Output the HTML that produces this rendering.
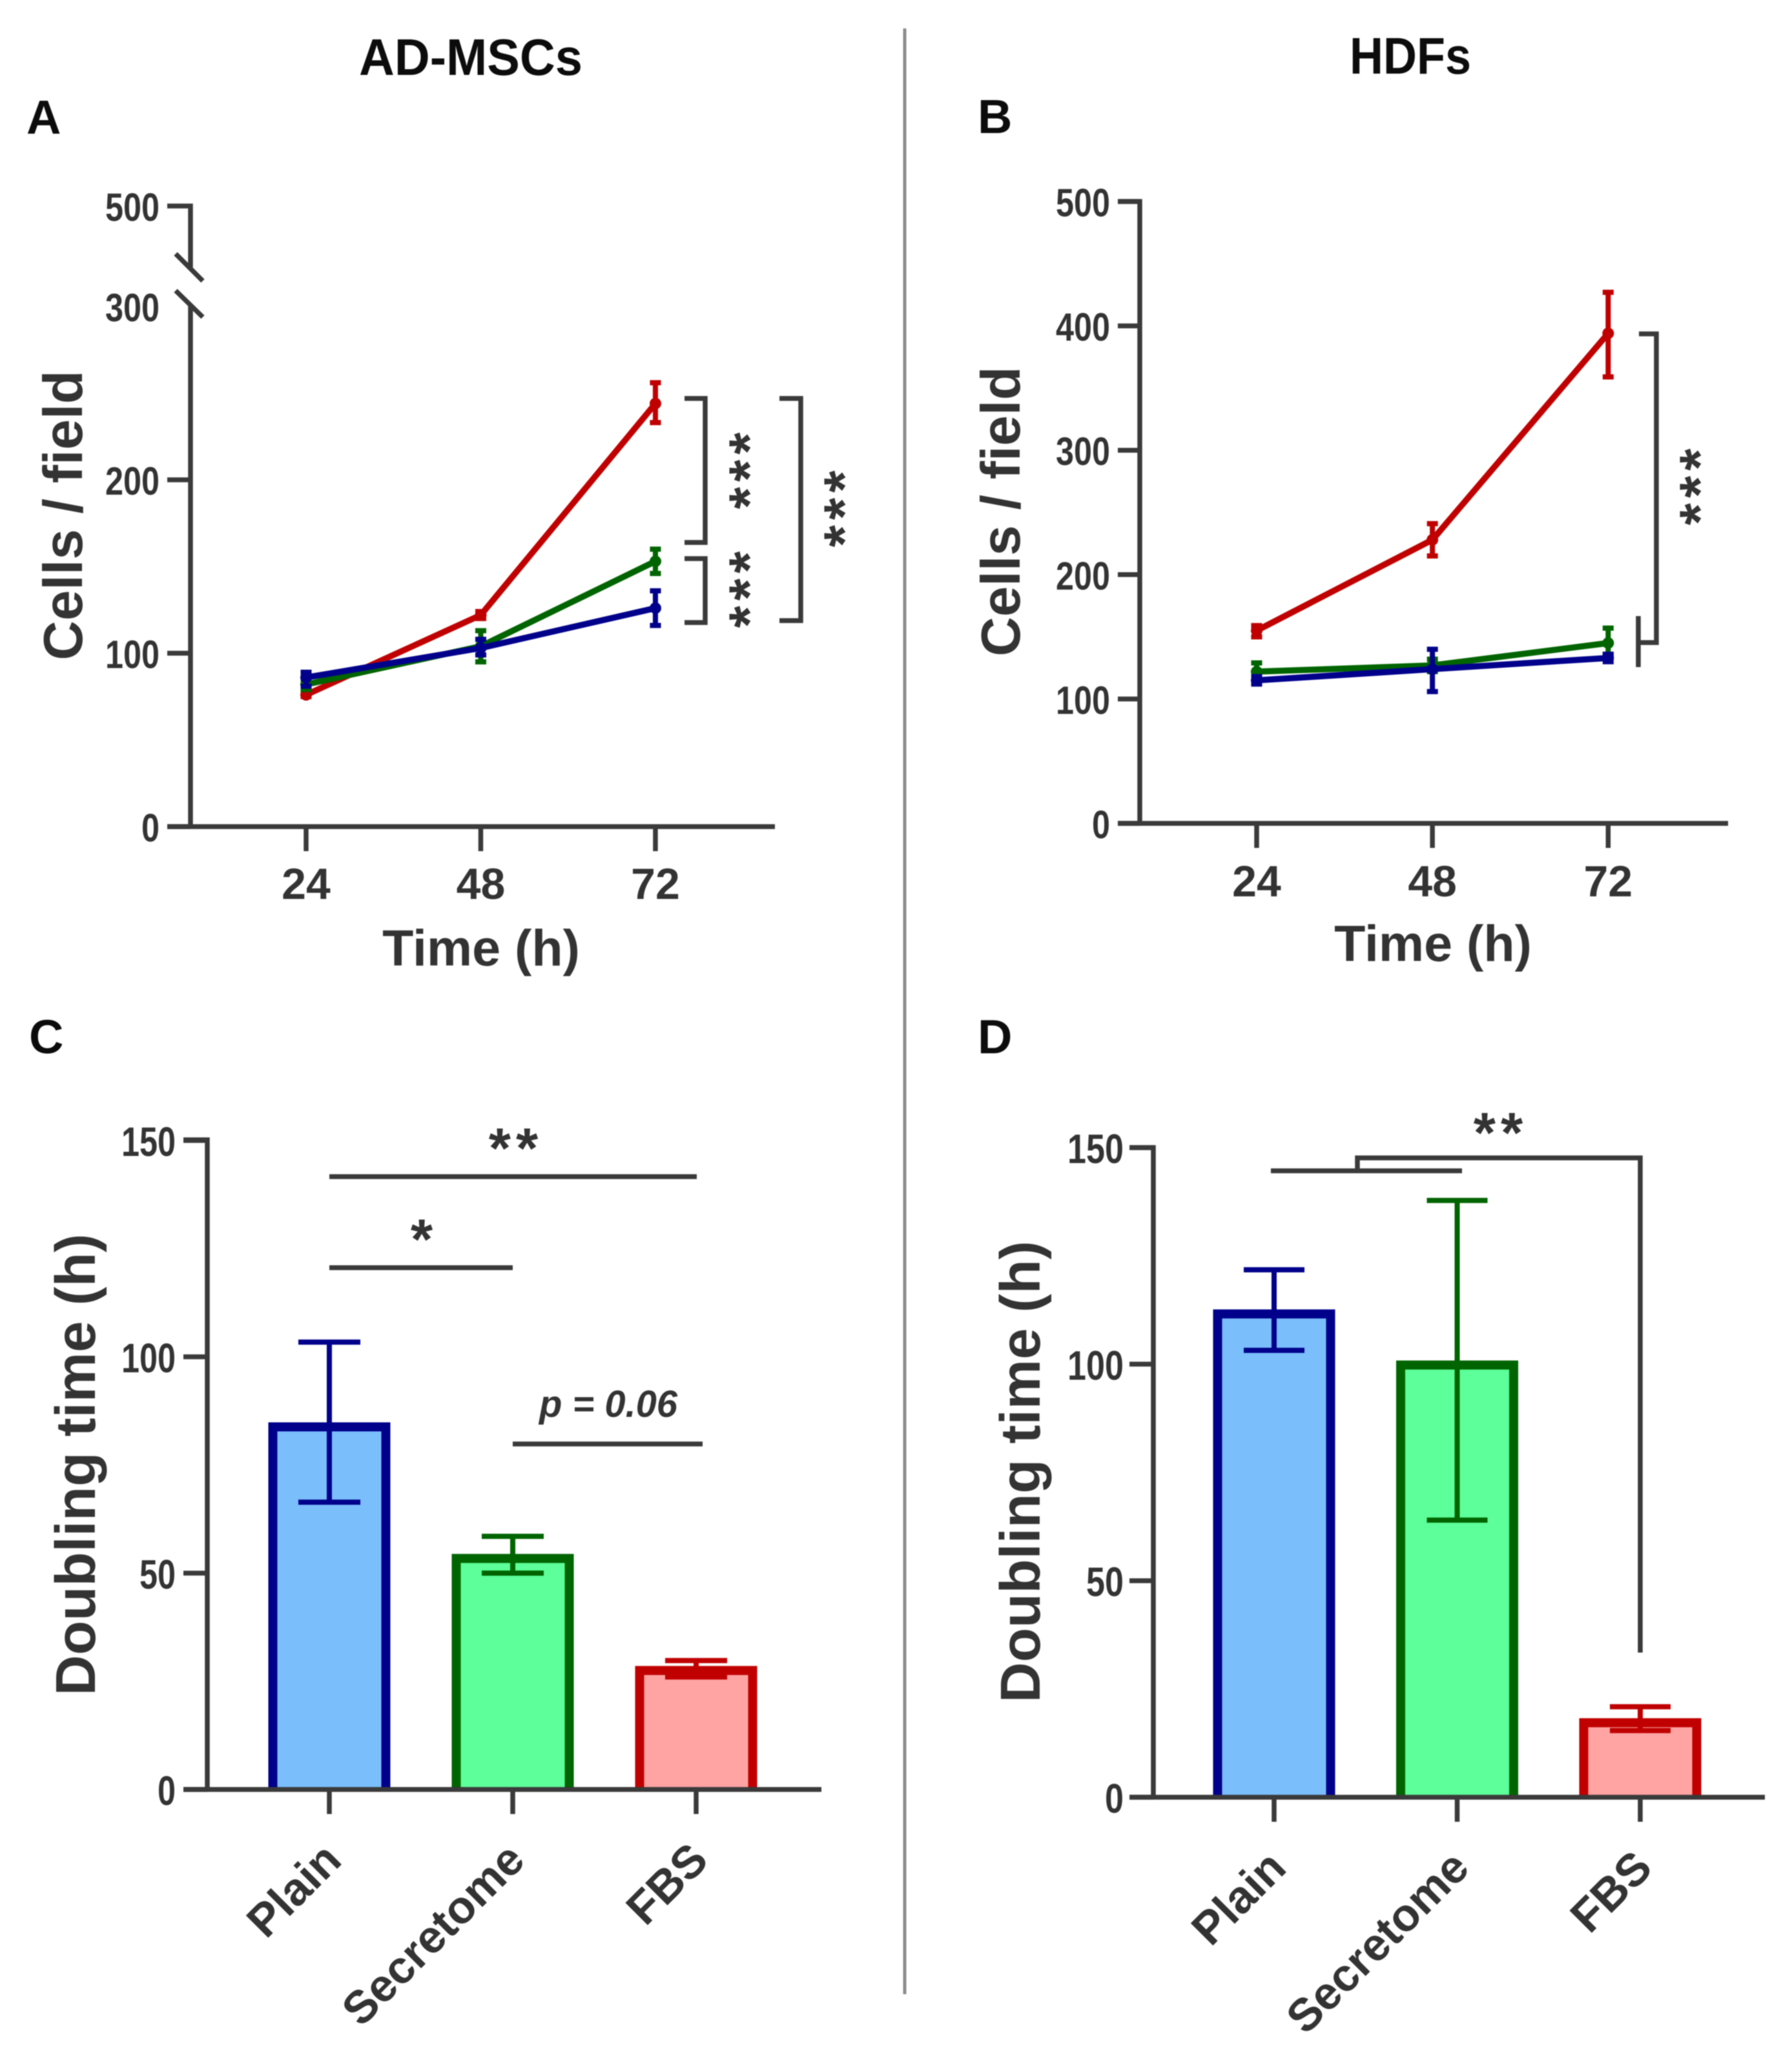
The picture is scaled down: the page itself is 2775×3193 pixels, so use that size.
<!DOCTYPE html>
<html lang="en">
<head>
<meta charset="utf-8">
<title>Cell growth and doubling time: AD-MSCs and HDFs</title>
<style>
html,body{margin:0;padding:0;background:#fff;width:2775px;height:3193px;overflow:hidden}
svg{display:block;filter:blur(0.7px)}
text{font-family:"Liberation Sans",sans-serif;font-weight:700;fill:#333}
.head{fill:#0c0c0c}
.ink{fill:none;stroke:#3a3a3a;stroke-width:7.5}
.star{letter-spacing:8px}
</style>
</head>
<body>
<svg id="fig" xmlns="http://www.w3.org/2000/svg" width="2775" height="3193" viewBox="0 0 2775 3193">
  <rect width="2775" height="3193" fill="#fff"/>
  <line x1="1401" y1="44" x2="1401" y2="3088" stroke="#8c8c8c" stroke-width="5"/>
  <text class="head" x="556" y="116" font-size="80" textLength="346" lengthAdjust="spacingAndGlyphs">AD-MSCs</text>
  <text class="head" x="2090" y="114" font-size="80" textLength="188" lengthAdjust="spacingAndGlyphs">HDFs</text>
  <text class="head" x="41" y="207" font-size="74">A</text>
  <text class="head" x="1514" y="206" font-size="74">B</text>
  <text class="head" x="45" y="1631" font-size="74">C</text>
  <text class="head" x="1514" y="1631" font-size="74">D</text>

  <g id="panel-a">
    <path class="ink" d="M259 319H295V414"/>
    <path class="ink" d="M295 471V1280"/>
    <path class="ink" d="M259 1280H1200"/>
    <line class="ink" x1="272" y1="393" x2="314" y2="435"/>
    <line class="ink" x1="272" y1="450" x2="314" y2="491"/>
    <text x="745" y="1495" font-size="79" text-anchor="middle">Time (h)</text>
    <text font-size="85" text-anchor="middle" transform="translate(127 798) rotate(-90)">Cells / field</text>
    <path class="ink" d="M1060 617H1092V840H1060"/>
    <path class="ink" d="M1060 865H1092V964H1060"/>
    <path class="ink" d="M1207 617H1240V961H1207"/>
    <text class="star" font-size="88" text-anchor="middle" transform="translate(1149 729) rotate(-90)" x="4" y="41">***</text>
    <text class="star" font-size="88" text-anchor="middle" transform="translate(1149 913) rotate(-90)" x="4" y="41">***</text>
    <text class="star" font-size="88" text-anchor="middle" transform="translate(1296 788) rotate(-90)" x="4" y="41">***</text>
  </g>

  <g id="panel-b">
    <path class="ink" d="M1731 312H1765V1275"/>
    <path class="ink" d="M1731 1275H2676"/>
    <text x="2219" y="1488" font-size="79" text-anchor="middle">Time (h)</text>
    <text font-size="85" text-anchor="middle" transform="translate(1579 792) rotate(-90)">Cells / field</text>
    <path class="ink" d="M2538 517H2565V995H2537"/>
    <line class="ink" x1="2537" y1="954" x2="2537" y2="1033"/>
    <text class="star" font-size="88" text-anchor="middle" transform="translate(2621 754) rotate(-90)" x="4" y="41">***</text>
  </g>

  <g id="panel-c">
    <text font-size="87" text-anchor="middle" transform="translate(147 2268) rotate(-90)">Doubling time (h)</text>
    <line class="ink" x1="510" y1="1822" x2="1079" y2="1822"/>
    <line class="ink" x1="510" y1="1963" x2="794" y2="1963"/>
    <line class="ink" x1="794" y1="2236" x2="1088" y2="2236"/>
    <text class="star" font-size="88" text-anchor="middle" x="799" y="1808">**</text>
    <text class="star" font-size="88" text-anchor="middle" x="657" y="1949">*</text>
    <text font-size="58" font-style="italic" x="835" y="2194" textLength="214" lengthAdjust="spacingAndGlyphs">p = 0.06</text>
  </g>

  <g id="panel-d">
    <text font-size="87" text-anchor="middle" transform="translate(1610 2279) rotate(-90)">Doubling time (h)</text>
    <line class="ink" x1="1968" y1="1813" x2="2264" y2="1813"/>
    <path class="ink" d="M2102 1813V1793H2540V2559"/>
    <text class="star" font-size="88" text-anchor="middle" x="2324" y="1784">**</text>
  </g>
</svg>

<script>
const hours = [24, 48, 72];
const aTickLabels = [0, 100, 200, 300, 500];
const bTickLabels = [0, 100, 200, 300, 400, 500];
const barTickLabels = [0, 50, 100, 150];
const categories = ['Plain', 'Secretome', 'FBS'];

const aFbsMean = [76, 122, 244];
const aFbsLow = [75, 120, 233];
const aFbsHigh = [78, 124, 256];
const aSecretomeMean = [82, 104, 153];
const aSecretomeLow = [79, 95, 146];
const aSecretomeHigh = [85, 113, 160];
const aPlainMean = [86, 103, 126];
const aPlainLow = [81, 99, 116];
const aPlainHigh = [89, 108, 136];

const bFbsMean = [155, 228, 394];
const bFbsLow = [150, 215, 359];
const bFbsHigh = [159, 241, 427];
const bSecretomeMean = [122, 127, 145];
const bSecretomeLow = [115, 122, 136];
const bSecretomeHigh = [129, 132, 157];
const bPlainMean = [115, 124, 133];
const bPlainLow = [112, 106, 130];
const bPlainHigh = [118, 140, 136];

const cMean = [83.8, 53.4, 27.5];
const cLow = [66.4, 50, 26];
const cHigh = [103.4, 58.5, 29.8];

const dMean = [111.6, 99.8, 17.2];
const dLow = [103.2, 64, 15.4];
const dHigh = [121.8, 137.8, 20.9];

const NS = 'http://www.w3.org/2000/svg';
const BLUE = '#00008b', GREEN = '#006400', RED = '#c00000';
const INK = '#3a3a3a';

function make(tag, parent, props) {
  const node = document.createElementNS(NS, tag);
  for (const key in props) node.setAttribute(key, props[key]);
  parent.appendChild(node);
  return node;
}

/* axis functions */
function yA(v) { return v <= 300 ? 1280 - v * 2.685 : 475 - (v - 300) * 0.78; }
function yB(v) { return 1275 - v * 1.926; }
function yC(v) { return 2771 - v * 6.7; }
function yD(v) { return 2783 - v * 6.706; }
function xA(h) { return 474 + (h - 24) * 11.27; }
function xB(h) { return 1946 + (h - 24) * 11.34; }
function xC(i) { return 510 + i * 284; }
function xD(i) { return 1973 + i * 283.5; }

function drawYTicks(parent, ticks, yScale, axisX, tickLeft, labelRight, fontSize, digitWidth, offset) {
  ticks.forEach(function (value) {
    if (yScale === yA && value === 300) {
      /* the axis break stands in for a tick here */
    } else if (!((yScale === yA && value === 500))) {
      const mark = make('line', parent, { x1: tickLeft, y1: yScale(value), x2: axisX, y2: yScale(value), stroke: INK, 'stroke-width': 7.5 });
      
      
    }
    const label = make('text', parent, { x: labelRight, y: yScale(value) + offset, 'font-size': fontSize, 'text-anchor': 'end', textLength: String(value).length * digitWidth, lengthAdjust: 'spacingAndGlyphs' });
    label.textContent = value;
    
    
  });
}

function drawHourTicks(parent, xScale, axisY, labelY) {
  hours.forEach(function (h) {
    const mark = make('line', parent, { x1: xScale(h), y1: axisY, x2: xScale(h), y2: axisY + 38, stroke: INK, 'stroke-width': 7.5 });
    
    
    const label = make('text', parent, { x: xScale(h), y: labelY, 'font-size': 68, 'text-anchor': 'middle' });
    label.textContent = h;
    
    
  });
}

function drawSeries(parent, name, color, means, lows, highs, xScale, yScale) {
  const group = make('g', parent, {});
  
  
  const pts = hours.map(function (h, i) { return xScale(h) + ',' + yScale(means[i]); }).join(' ');
  const trend = make('polyline', group, { points: pts, fill: 'none', stroke: color, 'stroke-width': 9.5, 'stroke-linejoin': 'round' });
  
  
  hours.forEach(function (h, i) {
    const x = xScale(h), top = yScale(highs[i]), bottom = yScale(lows[i]);
    const whisker = make('path', group, { d: 'M' + (x - 8.5) + ' ' + top + 'H' + (x + 8.5) + 'M' + x + ' ' + top + 'V' + bottom + 'M' + (x - 8.5) + ' ' + bottom + 'H' + (x + 8.5), fill: 'none', stroke: color, 'stroke-width': 8 });
    
    
    const dot = make('circle', group, { cx: x, cy: yScale(means[i]), r: 9, fill: color });
    
    
  });
}

const barFills = ['#7abefb', '#5cff99', '#ffa3a3'];
const barEdges = [BLUE, GREEN, RED];

function drawBars(parent, means, lows, highs, xScale, yScale, capHalf) {
  categories.forEach(function (name, i) {
    const slug = name.toLowerCase();
    const x = xScale(i), halfWidth = 87.5;
    const bar = make('path', parent, { d: 'M' + (x - halfWidth) + ' ' + yScale(0) + 'V' + yScale(means[i]) + 'H' + (x + halfWidth) + 'V' + yScale(0), fill: barFills[i], stroke: barEdges[i], 'stroke-width': 14 });
    
    
    const top = yScale(highs[i]), bottom = yScale(lows[i]);
    const whisker = make('path', parent, { d: 'M' + (x - capHalf) + ' ' + top + 'H' + (x + capHalf) + 'M' + x + ' ' + top + 'V' + bottom + 'M' + (x - capHalf) + ' ' + bottom + 'H' + (x + capHalf), fill: 'none', stroke: barEdges[i], 'stroke-width': 8 });
    
    
  });
}

function drawBarAxes(parent, xScale, axisY, axisX, tickLeft, topY, rightX, labelDrop) {
  const yAxis = make('path', parent, { d: 'M' + tickLeft + ' ' + topY + 'H' + axisX + 'V' + axisY, fill: 'none', stroke: INK, 'stroke-width': 7.5 });
  
  
  const xAxis = make('path', parent, { d: 'M' + tickLeft + ' ' + axisY + 'H' + rightX, fill: 'none', stroke: INK, 'stroke-width': 7.5 });
  
  
  categories.forEach(function (name, i) {
    const slug = name.toLowerCase();
    const x = xScale(i);
    const mark = make('line', parent, { x1: x, y1: axisY, x2: x, y2: axisY + 38, stroke: INK, 'stroke-width': 7.5 });
    
    
    const label = make('text', parent, { 'font-size': 71, 'text-anchor': 'end', transform: 'translate(' + (x + 22) + ' ' + (axisY + labelDrop) + ') rotate(-45)' });
    label.textContent = name;
    
    
  });
}

const panelA = document.getElementById('panel-a');
drawYTicks(panelA, aTickLabels, yA, 295, 259, 247, 61, 28, 23);
drawHourTicks(panelA, xA, 1280, 1392);
drawSeries(panelA, 'fbs', RED, aFbsMean, aFbsLow, aFbsHigh, xA, yA);
drawSeries(panelA, 'secretome', GREEN, aSecretomeMean, aSecretomeLow, aSecretomeHigh, xA, yA);
drawSeries(panelA, 'plain', BLUE, aPlainMean, aPlainLow, aPlainHigh, xA, yA);

const panelB = document.getElementById('panel-b');
drawYTicks(panelB, bTickLabels, yB, 1765, 1731, 1719, 61, 28, 23);
drawHourTicks(panelB, xB, 1275, 1388);
drawSeries(panelB, 'fbs', RED, bFbsMean, bFbsLow, bFbsHigh, xB, yB);
drawSeries(panelB, 'secretome', GREEN, bSecretomeMean, bSecretomeLow, bSecretomeHigh, xB, yB);
drawSeries(panelB, 'plain', BLUE, bPlainMean, bPlainLow, bPlainHigh, xB, yB);

const panelC = document.getElementById('panel-c');
drawBars(panelC, cMean, cLow, cHigh, xC, yC, 48);
drawBarAxes(panelC, xC, 2771, 321, 284, 1765, 1272, 113);
drawYTicks(panelC, barTickLabels, yC, 321, 284, 272, 64, 28, 24);

const panelD = document.getElementById('panel-d');
drawBars(panelD, dMean, dLow, dHigh, xD, yD, 47);
drawBarAxes(panelD, xD, 2783, 1786, 1749, 1777, 2733, 113);
drawYTicks(panelD, barTickLabels, yD, 1786, 1749, 1740, 64, 29, 24);
</script>
</body>
</html>
